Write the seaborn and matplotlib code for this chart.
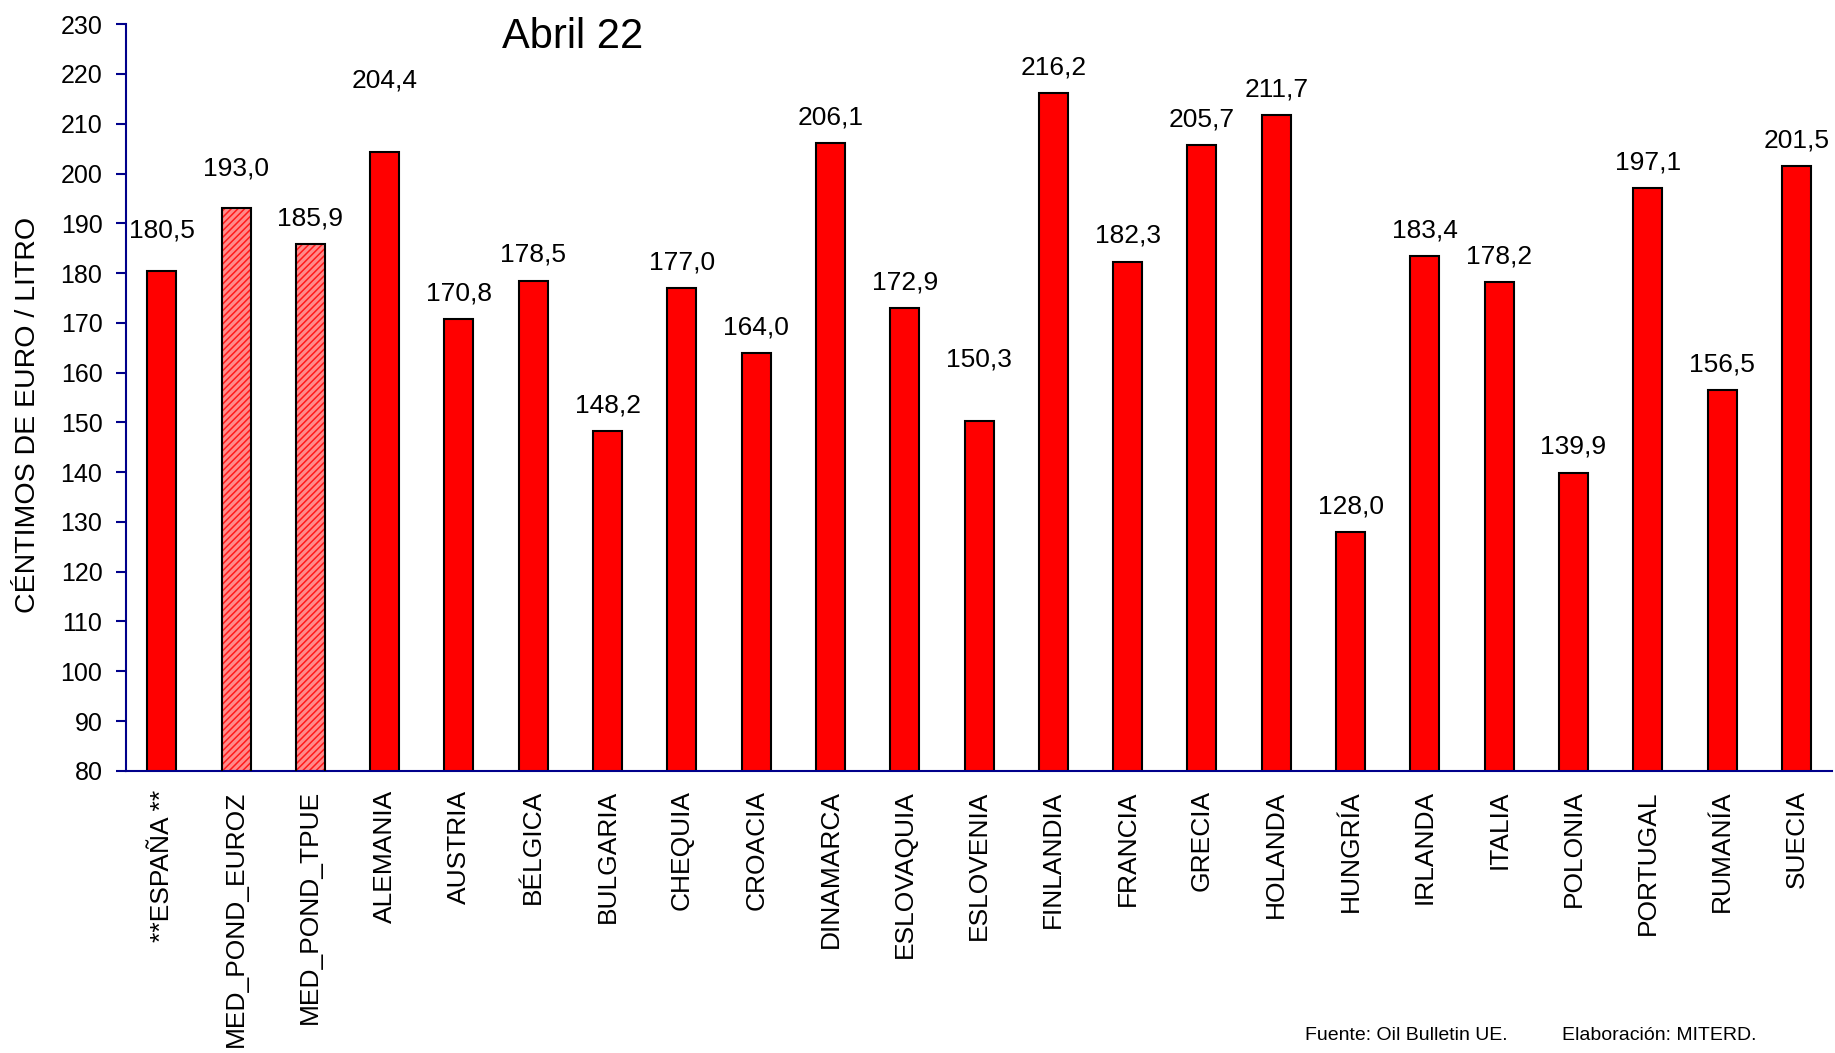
import matplotlib
matplotlib.use("Agg")
import matplotlib.pyplot as plt
import seaborn as sns
from matplotlib.patches import Rectangle

paises = ["**ESPAÑA **", "MED_POND_EUROZ", "MED_POND_TPUE", "ALEMANIA", "AUSTRIA",
          "BÉLGICA", "BULGARIA", "CHEQUIA", "CROACIA", "DINAMARCA", "ESLOVAQUIA",
          "ESLOVENIA", "FINLANDIA", "FRANCIA", "GRECIA", "HOLANDA", "HUNGRÍA",
          "IRLANDA", "ITALIA", "POLONIA", "PORTUGAL", "RUMANÍA", "SUECIA"]
precios = [180.5, 193.0, 185.9, 204.4, 170.8, 178.5, 148.2, 177.0, 164.0, 206.1, 172.9,
           150.3, 216.2, 182.3, 205.7, 211.7, 128.0, 183.4, 178.2, 139.9, 197.1, 156.5, 201.5]
medias = ["MED_POND_EUROZ", "MED_POND_TPUE"]
yticks = list(range(80, 231, 10))

# etiquetas que en el original quedan mas altas (puntos)
desplaz = {"**ESPAÑA **": 29, "MED_POND_EUROZ": 29, "ALEMANIA": 51, "ESLOVENIA": 44}

sns.set_style("white")
plt.rcParams["font.family"] = ["Liberation Sans", "DejaVu Sans"]
plt.rcParams["text.color"] = "black"
plt.rcParams["axes.labelcolor"] = "black"
plt.rcParams["xtick.labelcolor"] = "black"
plt.rcParams["ytick.labelcolor"] = "black"
plt.rcParams["hatch.linewidth"] = 1.1

fig = plt.figure(figsize=(18.35, 10.53), dpi=100)
ax = fig.add_axes([0.0687, 0.268, 0.9297, 0.709])

sns.barplot(x=paises, y=precios, color="#ff0000", saturation=1, width=0.39,
            edgecolor="black", linewidth=1.5, ax=ax)

for p, nombre in zip(ax.patches, paises):
    if nombre in medias:
        p.set_facecolor("#ff8a8a")
        p.set_edgecolor("#ff1a1a")
        p.set_hatch("/////")
        p.set_linewidth(0)
        ax.add_patch(Rectangle(p.get_xy(), p.get_width(), p.get_height(),
                               fill=False, edgecolor="black", linewidth=1.5, zorder=3))

for i, (nombre, v) in enumerate(zip(paises, precios)):
    ax.annotate(f"{v:.1f}".replace(".", ","), (i, v), xytext=(0, desplaz.get(nombre, 18.5)),
                textcoords="offset points", ha="center", va="center", fontsize=19)

ax.set_ylim(80, 230)
ax.set_xlim(-0.48, 22.48)
ax.set_yticks(yticks)
ax.tick_params(axis="y", labelsize=18, length=7, width=1.5, color="#00008b", pad=10, left=True)
ax.tick_params(axis="x", labelsize=19, length=0, pad=14, rotation=90)
for lbl in ax.get_xticklabels():
    lbl.set_va("top")

for s in ["top", "right"]:
    ax.spines[s].set_visible(False)
for s in ["left", "bottom"]:
    ax.spines[s].set_color("#00008b")
    ax.spines[s].set_linewidth(1.5)

ax.set_xlabel("")
ax.set_ylabel("CÉNTIMOS DE EURO / LITRO", fontsize=20.5)
ax.yaxis.set_label_coords(-0.05, 0.477)

fig.text(573 / 1835, 1 - 37 / 1053, "Abril 22", ha="center", va="center", fontsize=30)
fig.text(1305 / 1835, 1 - 1036 / 1053, "Fuente: Oil Bulletin UE.", ha="left", va="center", fontsize=14)
fig.text(1562 / 1835, 1 - 1036 / 1053, "Elaboración: MITERD.", ha="left", va="center", fontsize=14)

fig.savefig("out.png", dpi=100)
